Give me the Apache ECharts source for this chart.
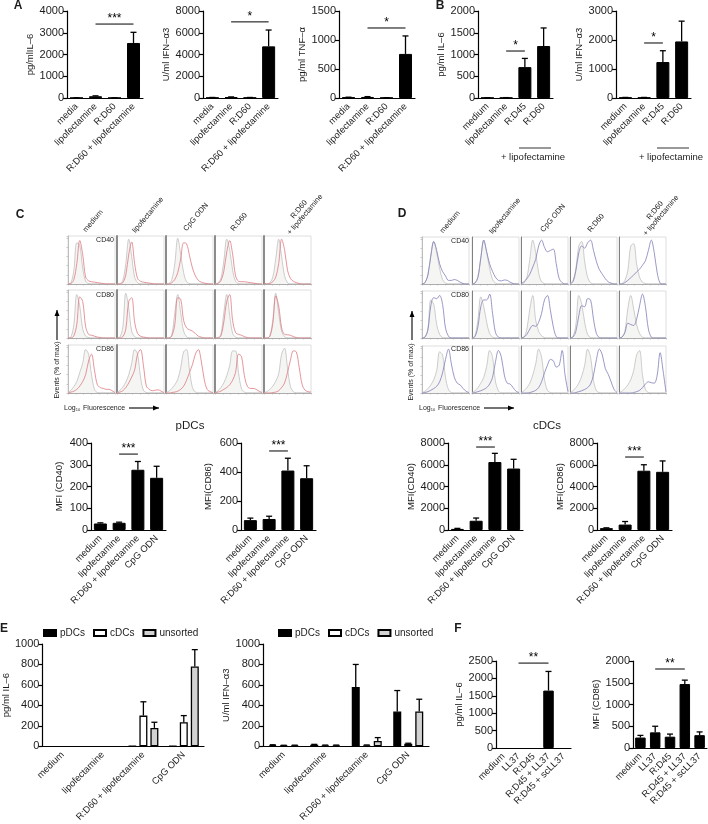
<!DOCTYPE html>
<html><head><meta charset="utf-8">
<style>html,body{margin:0;padding:0;background:#fff}#c{width:708px;height:824px}</style>
<script src="https://cdn.jsdelivr.net/npm/echarts@6/dist/echarts.min.js"></script>
</head><body><div id="c"></div>
<script>
// ---------- categories ----------
const catsA = ['media','lipofectamine','R:D60','R:D60 + lipofectamine'];
const catsB = ['medium','lipofectamine','R:D45','R:D60'];
const catsMfi = ['medium','lipofectamine','R:D60 + lipofectamine','CpG ODN'];
const catsF = ['medium','LL37','R:D45','R:D45 + LL37','R:D45 + scLL37'];
// ---------- bar values and error-bar tops ----------
const a1Val=[5,80,5,2530], a1Err=[10,100,8,3020];
const a2Val=[30,70,30,4750], a2Err=[50,100,50,6250];
const a3Val=[10,18,4,760], a3Err=[14,24,6,1070];
const b1Val=[5,6,710,1195], b1Err=[8,9,910,1610];
const b2Val=[15,15,1240,1950], b2Err=[20,20,1630,2650];
const pd1Val=[30,33,277,240], pd1Err=[33,36,315,293];
const pd2Val=[68,76,410,357], pd2Err=[82,95,495,443];
const cd1Val=[100,850,6250,5650], cd1Err=[150,1100,7050,6500];
const cd2Val=[170,500,5450,5350], cd2Err=[200,780,6000,6350];
const e1Pdc=[0,0,3,3], e1Cdc=[0,0,300,235], e1Uns=[0,0,180,780];
const e1PdcErr=[0,0,3,3], e1CdcErr=[0,0,435,300], e1UnsErr=[0,0,235,945];
const e2Pdc=[12,15,580,340], e2Cdc=[8,10,10,25], e2Uns=[9,10,52,340];
const e2PdcErr=[15,19,800,545], e2CdcErr=[10,12,13,30], e2UnsErr=[11,12,85,460];
const f1Val=[0,0,0,1650,0], f1Err=[0,0,0,2200,0];
const f2Val=[240,360,260,1470,295], f2Err=[290,500,320,1560,370];
// ---------- flow cytometry histograms (row x column, % of max) ----------
const flowRows=['CD40','CD80','CD86'];
const flowCols=['medium','lipofectamine','CpG ODN','R:D60','R:D60\n+ lipofectamine'];
const cGray=[
 [[0,3,30,90,85,35,6,1],[0,1,8,45,98,60,15,3],[0,1,10,45,100,65,25,5,1],[0,2,12,50,98,75,30,6,1],[0,0,3,15,55,98,60,18,3]],
 [[0,2,30,95,70,20,4,1],[0,2,25,98,65,15,3],[0,0,8,55,95,55,15,3],[0,1,8,55,95,50,10,2],[0,0,5,40,98,55,15,3]],
 [[1,6,14,25,45,65,95,85,40,8,1],[1,6,13,24,40,65,95,85,35,6,1],[1,4,10,18,30,55,90,95,50,12,2],[1,5,12,22,38,60,92,92,45,10,2],[1,3,8,15,26,42,85,98,55,14,3]]];
const cRed=[
 [[0,1,10,45,95,65,15,7,5,4,3,2,1],[0,0,3,20,65,92,45,12,6,4,3,2,1],[0,0,3,10,25,55,90,88,62,35,18,8,4,2,1],[0,1,7,28,70,95,65,18,6,5,5,4,3,2,1],[3,0,1,5,15,45,98,75,30,12,6,3,1]],
 [[0,0,5,30,90,80,25,8,6,4,2,1],[0,0,3,20,80,88,35,10,4,2,1],[0,0,5,30,88,85,38,22,18,15,10,4,2],[0,0,5,35,80,95,38,12,8,6,3,1],[0,0,4,32,92,70,22,8,7,6,3,1]],
 [[0,2,4,8,15,25,40,70,85,50,18,12,10,8,8,5,1],[0,2,5,12,22,35,50,85,95,60,15,8,5,6,7,4,1],[0,0,1,2,4,8,15,28,45,62,85,95,70,30,8,3,1],[0,2,4,8,12,18,28,45,85,80,38,15,10,10,8,4,1],[0,0,0,1,2,5,12,22,45,72,92,90,55,18,6,3,2]]];
const dGray=[
 [[0,3,20,65,95,70,35,10,2],[0,2,15,60,98,70,35,10,2],[0,2,15,55,98,70,25,5,1],[1,8,35,85,95,50,15,3],[0,1,8,30,85,90,45,15,4,1]],
 [[0,2,20,85,75,30,8,1],[0,5,40,92,70,35,10,2],[0,2,20,65,95,40,15,5,1],[0,3,30,95,75,35,8,1],[0,2,15,65,95,65,30,10,2]],
 [[1,4,10,18,30,50,92,85,35,8,1],[1,5,12,22,35,60,95,80,25,5],[1,5,12,22,40,65,98,80,30,6,1],[1,5,12,22,38,62,98,80,28,5,1],[1,4,10,18,30,50,85,95,40,8,1]]];
const dBlue=[
 [[0,3,20,62,95,75,45,28,18,8,8,10,8,4,1],[0,2,15,58,98,72,45,28,15,8,7,9,8,4,1],[1,5,12,22,38,55,85,98,82,72,75,78,45,12,3],[0,5,30,70,85,80,92,98,75,50,32,22,12,5,2],[0,0,3,8,14,20,27,33,42,52,75,98,70,25,2]],
 [[0,2,18,72,90,88,95,75,22,4],[0,3,25,70,85,85,98,55,12,2],[0,2,8,20,28,26,35,55,85,95,62,25,3],[0,2,15,50,72,70,88,85,42,10,1],[0,2,12,33,30,28,42,72,98,70,20,2]],
 [[0,1,3,6,10,15,25,45,75,98,65,35,22,18,10,4,1],[0,1,3,5,8,12,20,35,70,95,80,40,22,20,12,4,1],[0,0,0,1,3,6,12,25,45,62,75,72,58,62,95,40,3],[0,0,1,3,5,8,12,20,40,75,98,85,55,42,25,8,1],[0,0,0,0,0,1,3,6,12,20,25,23,22,40,90,50,2]]];

const FONT='"Liberation Sans",Arial,sans-serif', INK='#1c1c1c';
const grid=[],xAxis=[],yAxis=[],series=[],graphic=[];
function axes(p,cats){
 const i=grid.length;
 grid.push({left:p.x,top:p.top,width:p.w,height:p.h});
 xAxis.push({gridIndex:i,type:'category',data:cats,axisLine:{lineStyle:{color:'#000',width:1.2}},
  axisTick:{alignWithLabel:true,length:4,lineStyle:{color:'#000',width:1.2}},
  axisLabel:{interval:0,rotate:45,fontSize:9.4,fontFamily:FONT,color:INK,margin:p.lm||7},splitLine:{show:false}});
 yAxis.push({gridIndex:i,type:'value',min:0,max:p.max,interval:p.int,name:p.name,nameLocation:'middle',nameGap:p.gap-4,
  nameTextStyle:{fontSize:9.5,fontFamily:FONT,color:INK},
  axisLine:{show:true,lineStyle:{color:'#000',width:1.2}},axisTick:{show:true,length:4,lineStyle:{color:'#000',width:1.2}},
  axisLabel:{fontSize:11,fontFamily:FONT,color:INK,margin:3,formatter:v=>String(v)},splitLine:{show:false}});
 return i;
}
// a zero value keeps no outline, so it leaves only the axis line
const barData=vals=>vals.map(v=>v===0?{value:0,itemStyle:{borderWidth:0}}:v);
function errSeries(i,vals,tops,off,name){
 series.push({type:'custom',name:name,xAxisIndex:i,yAxisIndex:i,z:3,clip:false,silent:true,
  data:vals.map((v,k)=>[k,v,tops[k]]),encode:{x:0,y:[1,2]},
  renderItem(ctx,api){
   const a=api.coord([api.value(0),api.value(1)]),b=api.coord([api.value(0),api.value(2)]);
   const x=a[0]+off,s={stroke:'#000',lineWidth:1.3};
   if(api.value(2)<=api.value(1))return {type:'group',children:[]};
   return {type:'group',children:[
    {type:'line',shape:{x1:x,y1:a[1],x2:x,y2:b[1]},style:s},
    {type:'line',shape:{x1:x-3,y1:b[1],x2:x+3,y2:b[1]},style:s}]};
  }});
}
function sigSeries(i,from,to,y,stars){
 series.push({type:'custom',xAxisIndex:i,yAxisIndex:i,z:4,clip:false,silent:true,
  data:[[from,to,y]],encode:{x:[0,1],y:2},
  renderItem(ctx,api){
   const a=api.coord([api.value(0),api.value(2)]),b=api.coord([api.value(1),api.value(2)]);
   return {type:'group',children:[
    {type:'line',shape:{x1:a[0],y1:a[1],x2:b[0],y2:a[1]},style:{stroke:'#000',lineWidth:1}},
    {type:'text',style:{text:stars,x:(a[0]+b[0])/2,y:a[1]-5,textAlign:'center',textVerticalAlign:'middle',fill:'#000',font:'12px '+FONT}}]};
  }});
}
function barPanel(p,cats,vals,tops,sig){
 const i=axes(p,cats);
 series.push({type:'bar',xAxisIndex:i,yAxisIndex:i,data:barData(vals),barWidth:p.bw||13,itemStyle:{color:'#000',borderColor:'#000',borderWidth:1},silent:true});
 errSeries(i,vals,tops,0);
 if(sig)sigSeries(i,sig[0],sig[1],sig[2],sig[3]);
}
function groupPanel(p,cats,sets){
 const i=axes(p,cats);
 const names=['pDCs','cDCs','unsorted'],fills=['#000','#fff','#d2d2d2'];
 sets.forEach((s,k)=>{
  series.push({type:'bar',name:names[k],xAxisIndex:i,yAxisIndex:i,data:barData(s[0]),barWidth:8,barGap:'37.5%',
   itemStyle:{color:fills[k],borderColor:'#000',borderWidth:1.3},silent:true});
 });
 sets.forEach((s,k)=>errSeries(i,s[0],s[1],(k-1)*11));
}
// ---- Panel A / B
barPanel({x:67,top:11,w:76,h:87,max:4000,int:1000,name:'pg/mlIL\u20136',gap:34},catsA,a1Val,a1Err,[1,3,3400,'***']);
barPanel({x:203,top:11,w:75,h:87,max:8000,int:2000,name:'U/ml IFN\u2013\u03b13',gap:35},catsA,a2Val,a2Err,[1,3,7000,'*']);
barPanel({x:339,top:11,w:76,h:87,max:1500,int:500,name:'pg/ml TNF\u2013\u03b1',gap:35},catsA,a3Val,a3Err,[1,3,1207,'*']);
barPanel({x:478,top:11,w:75,h:87,max:2000,int:500,name:'pg/ml IL\u20136',gap:34},catsB,b1Val,b1Err,[1,2,1080,'*']);
barPanel({x:616,top:11,w:75,h:87,max:3000,int:1000,name:'U/ml IFN\u2013\u03b13',gap:36},catsB,b2Val,b2Err,[1,2,1897,'*']);
// ---- MFI panels
barPanel({x:91,top:443,w:75,h:87,max:400,int:100,name:'MFI (CD40)',gap:31},catsMfi,pd1Val,pd1Err,[1,2,349,'***']);
barPanel({x:241,top:443,w:75,h:87,max:600,int:200,name:'MFI(CD86)',gap:32},catsMfi,pd2Val,pd2Err,[1,2,545,'***']);
barPanel({x:448,top:443,w:75,h:87,max:8000,int:2000,name:'MFI(CD40)',gap:36},catsMfi,cd1Val,cd1Err,[1,2,7630,'***']);
barPanel({x:597,top:443,w:75,h:87,max:8000,int:2000,name:'MFI(CD86)',gap:36},catsMfi,cd2Val,cd2Err,[1,2,6710,'***']);
// ---- Panel E
groupPanel({x:37,top:644,w:167,h:104,max:1000,int:200,name:'pg/ml IL\u20136',gap:30},catsMfi,[[e1Pdc,e1PdcErr],[e1Cdc,e1CdcErr],[e1Uns,e1UnsErr]]);
groupPanel({x:263,top:644,w:166,h:104,max:1000,int:200,name:'U/ml IFN\u2013\u03b13',gap:33},catsMfi,[[e2Pdc,e2PdcErr],[e2Cdc,e2CdcErr],[e2Uns,e2UnsErr]]);
// ---- Panel F
barPanel({x:496,top:661,w:75,h:87,max:2500,int:500,name:'pg/ml IL\u20136',gap:35,bw:10.5},catsF,f1Val,f1Err,[1,3,2440,'**']);
barPanel({x:633,top:661,w:74,h:87,max:2000,int:500,name:'MFI (CD86)',gap:36,bw:10.5},catsF,f2Val,f2Err,[1,3,1816,'**']);
// ---- Flow panels
function pad(a){const r=a.slice();while(r.length<17)r.push(0);return r.map((v,i)=>[i,v]);}
function flow(xs,rowTops,gray,col,color,axisW,rowH){
 gray.forEach((row,r)=>row.forEach((g,c)=>{
  const i=grid.length;
  grid.push({left:xs[c],top:rowTops[r],width:47,height:rowH,show:true,borderColor:'#d6d6d6',borderWidth:0.8,backgroundColor:'transparent'});
  xAxis.push({gridIndex:i,type:'value',min:0,max:16,interval:2.67,axisLine:{lineStyle:{color:'#9a9a9a',width:.8}},axisTick:{length:1.5,lineStyle:{color:'#aaa',width:.6}},axisLabel:{show:false},splitLine:{show:false}});
  yAxis.push({gridIndex:i,type:'value',min:0,max:105,interval:20,axisLine:{show:true,lineStyle:{color:c?'#808080':'#b0b0b0',width:c?axisW:.8}},axisTick:{show:c===0,length:1.5,lineStyle:{color:'#aaa',width:.6}},axisLabel:{show:false},splitLine:{show:false}});
  series.push({type:'line',xAxisIndex:i,yAxisIndex:i,data:pad(g),smooth:.35,showSymbol:false,silent:true,z:2,
   lineStyle:{color:'#b8b8b8',width:.7},areaStyle:{color:'#f5f5f3',opacity:1}});
  series.push({type:'line',xAxisIndex:i,yAxisIndex:i,data:pad(col[r][c]),smooth:.35,showSymbol:false,silent:true,z:3,
   lineStyle:{color:color,width:.8}});
 }));
}
flow([68,117,166,215,264],[236,290,345],cGray,cRed,'#e07a80',1.8,48);
flow([422,472,521,570,619],[237,291,346],dGray,dBlue,'#7f7fb8',1,47);
// ---- Text and annotation drawn as graphics
function t(text,x,y,o){o=o||{};graphic.push({type:'text',x:x,y:y,rotation:(o.rot||0)*Math.PI/180,style:{text:text,fill:o.fill||INK,font:(o.bold?'bold ':'')+(o.size||11)+'px '+FONT,align:o.align||'center',verticalAlign:'middle',lineHeight:o.lh||undefined},silent:true});}
function ln(x1,y1,x2,y2,w,c){graphic.push({type:'line',shape:{x1,y1,x2,y2},style:{stroke:c||'#000',lineWidth:w||1},silent:true});}
function arrow(x1,y1,x2,y2){ln(x1,y1,x2,y2,1.1);
 const d=x1===x2?[[x2,y2],[x2-2.5,y2+6],[x2+2.5,y2+6]]:[[x2,y2],[x2-6,y2-2.5],[x2-6,y2+2.5]];
 graphic.push({type:'polygon',shape:{points:d},style:{fill:'#000'},silent:true});}
t('A',18,6,{bold:true,size:12});t('B',440,6,{bold:true,size:12});t('C',20,215,{bold:true,size:12});
t('D',402,214,{bold:true,size:12});t('E',4,629,{bold:true,size:12});t('F',458,629,{bold:true,size:12});
ln(519,148,551,148,1,'#333');t('+ lipofectamine',533,157,{size:9.5});
ln(657,148,689,148,1,'#333');t('+ lipofectamine',671,157,{size:9.5});
t('pDCs',190,426,{size:11.5});t('cDCs',547,426,{size:11.5});
const tC=[[93,221],[148,215],[196,217],[239,222],[302,212]],tD=[[450,222],[505,216],[553,218],[596,223],[658,213]];
flowCols.forEach((s,i)=>{t(s,tC[i][0],tC[i][1],{size:7.5,rot:50,lh:8});t(s,tD[i][0],tD[i][1],{size:7.5,rot:50,lh:8});});
[240,295,349].forEach((y,i)=>{t(flowRows[i],114,y,{size:7,align:'right'});t(flowRows[i],469,y+(i?0:1),{size:7,align:'right'});});
t('Events (% of max)',57,370,{size:7,rot:90});t('Events (% of max)',411,372,{size:7,rot:90});
arrow(57,340,57,310);arrow(412,340,412,311);
[[64,129,159],[419,484,514]].forEach(a=>{
 graphic.push({type:'text',x:a[0],y:408,style:{text:'Log{s|10} Fluorescence',fill:INK,font:'7px '+FONT,align:'left',verticalAlign:'middle',rich:{s:{fontSize:4,fill:INK,verticalAlign:'bottom',padding:[3,1,0,0]}}},silent:true});
 arrow(a[1],408,a[2],408);
});
const legendBase={orient:'horizontal',top:628,padding:0,icon:'rect',itemWidth:12,itemHeight:6,itemGap:8,selectedMode:false,data:['pDCs','cDCs','unsorted'],textStyle:{fontSize:10,fontFamily:FONT,color:INK,padding:[0,0,0,-1]}};
const chart=echarts.init(document.getElementById('c'),null,{renderer:'canvas'});
chart.setOption({animation:false,backgroundColor:'#fff',grid,xAxis,yAxis,series,graphic:{elements:graphic},
 legend:[Object.assign({},legendBase,{left:43}),Object.assign({},legendBase,{left:278})]});
</script></body></html>
